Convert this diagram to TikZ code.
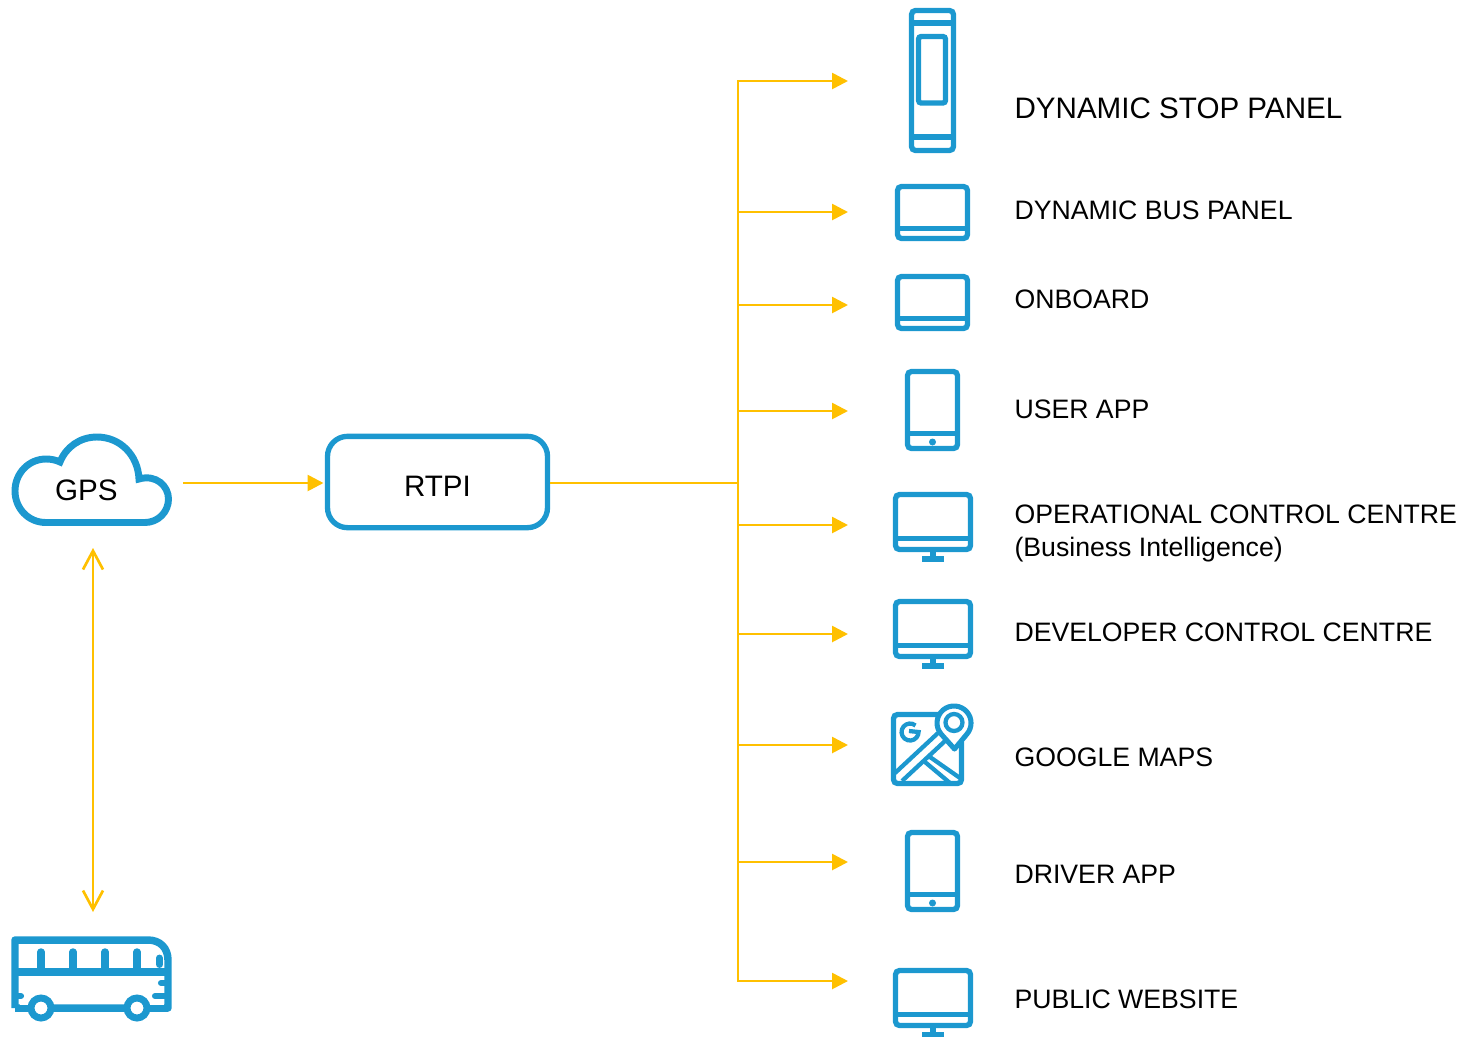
\documentclass[tikz,border=0pt]{standalone}
\usepackage{fontspec}
\setmainfont{Liberation Sans}
\usetikzlibrary{arrows.meta}
\definecolor{iconblue}{RGB}{28,152,207}
\definecolor{feedyellow}{RGB}{255,192,0}

\tikzset{every picture/.style={line width=0.75pt},
    every pic/.style={yscale=-1},
    feed/.style={color=feedyellow,line width=2pt},
    feedarrow/.style={feed,-{Triangle[length=12pt,width=12pt]}},
    icon/.style={color=iconblue,line width=4pt,rounded corners=3pt},
    biglabel/.style={anchor=base west,inner sep=0pt,font=\fontsize{22.2}{26}\selectfont},
    itemlabel/.style={anchor=base west,inner sep=0pt,align=left,font=\fontsize{20}{24.75}\selectfont},
    pics/tablet/.style={code={
            \draw [icon] (0,0) rectangle (50,77);
            \draw [icon] (0,62) -- (50,62);
            \fill [iconblue] (25,70.5) circle (3.5);
        }},
    pics/laptop/.style={code={
            \draw [icon] (0,0) rectangle (70,52);
            \draw [icon] (0,42) -- (70,42);
        }},
    pics/monitor/.style={code={
            \draw [icon] (0,0) rectangle (75,55);
            \draw [icon] (0,44) -- (75,44);
            \draw [icon] (37.5,55) -- (37.5,64);
            \draw [icon,rounded corners=0pt] (26.5,64.5) -- (48.5,64.5);
        }}}

\begin{document}
\begin{tikzpicture}[x=0.75pt,y=0.75pt,yscale=-1,xscale=1]
    \useasboundingbox (0,0) rectangle (1466,1036);

    % gps cloud
    \draw [color=iconblue,line width=5.2pt] (46,522.5) .. controls (28,522.5) and (15,508) .. (15,491) .. controls (15,473) and (29,459) .. (46,459) .. controls (51,459) and (56,460) .. (60,462) .. controls (66,447) and (80,437) .. (97,437) .. controls (120,437) and (138,455) .. (139,479) .. controls (156,474) and (168.5,486) .. (168.5,499) .. controls (168.5,512) and (158,522.5) .. (145,522.5) -- cycle;
    \node (gps) [biglabel] at (54.5,500) {GPS};
    \node (rtpi) [draw=iconblue,line width=4pt,rounded corners=15pt,minimum width=165pt,minimum height=68.5pt,inner sep=0pt] at (437.5,482) {};
    \node (rtpilabel) [biglabel] at (403.5,496) {RTPI};

    % bus
    \draw [color=iconblue,line width=5.6pt,line join=round] (15,1008) -- (15,940) -- (148,940) .. controls (160,940) and (168,948) .. (168,960) -- (168,1008) -- (15,1008);
    \draw [color=iconblue,line width=5.6pt] (15,972) -- (168,972);
    \foreach \x in {41,73,105,137} {
        \draw [color=iconblue,line width=5.6pt,line cap=round] (\x,972) -- (\x,952);
    }
    \draw [color=iconblue,line width=5.2pt,line cap=round] (159.5,958) -- (159.5,964.5);
    \draw [white,line width=3pt] (19.5,1002.5) -- (28,1002.5);
    \draw [white,line width=3pt] (155,989.5) -- (164,989.5);
    \draw [white,line width=3pt] (150,1002.5) -- (164,1002.5);
    \draw [color=iconblue,line width=4.6pt,line cap=round] (15,996) -- (21,996);
    \draw [color=iconblue,line width=4.6pt,line cap=round] (168,983) -- (161,983);
    \draw [color=iconblue,line width=4.6pt,line cap=round] (168,996) -- (155,996);
    \foreach \x in {41,137} {
        \draw [color=iconblue,fill=white,line width=5.2pt] (\x,1008) circle (10);
    }

    % connectors
    \coordinate (gpsout) at (183,483);
    \coordinate (gpsdown) at (93,548);
    \coordinate (busup) at (93,912);
    \coordinate (hub) at (738,483);
    \draw [feedarrow,shorten >=1pt] (gpsout) -- (gpsout -| rtpi.west);
    \draw [feed,{Straight Barb[length=14pt,width=15pt]}-{Straight Barb[length=14pt,width=15pt]}] (gpsdown) -- (busup);
    \draw [feed] (rtpi.east |- hub) -- (hub);
    \foreach \name/\y in {stopin/81,busin/212,onboardin/305,userin/411,opsin/525,devin/634,mapsin/745,driverin/862,sitein/981} {
        \coordinate (\name) at (848,\y);
        \draw [feedarrow] (hub |- \name) -- (\name);
    }
    \draw [feed,line cap=rect] (hub |- stopin) -- (hub |- sitein);

    % stop panel
    \draw [icon] (911.5,10.5) rectangle (953.5,150.5);
    \draw [icon] (911.5,23) -- (953.5,23);
    \draw [icon] (911.5,137) -- (953.5,137);
    \draw [icon,rounded corners=2pt] (918.5,36.5) rectangle (945.5,103);

    \pic at (897.5,186.5) {laptop};
    \pic at (897.5,276.5) {laptop};
    \pic at (907.5,371.5) {tablet};
    \pic at (895.5,494.5) {monitor};
    \pic at (895.5,601.5) {monitor};
    \pic at (907.5,832.5) {tablet};
    \pic at (895.5,970.5) {monitor};

    % map icon
    \draw [icon] (938,714.5) -- (893.5,714.5) -- (893.5,783.5) -- (961.5,783.5) -- (961.5,742);
    \draw [color=iconblue,line width=3.8pt,line join=round] (954.5,749) -- (941,733.9) arc [start angle=140,end angle=400,radius=17] -- cycle;
    \draw [color=iconblue,line width=3.2pt] (954,722.5) circle (8.5);
    \draw [color=iconblue,line width=3.2pt] (895,773) -- (938,733);
    \draw [color=iconblue,line width=3.2pt] (902,781) -- (945,741);
    \draw [color=iconblue,line width=3.2pt] (930,757) -- (960,778);
    \draw [color=iconblue,line width=3.2pt] (925,762) -- (950,783);
    \draw [color=iconblue,line width=3.2pt] (915.5,725.5) arc [start angle=310,end angle=0,radius=8.5] -- (909,731);

    % labels
    \node (stoplabel) [biglabel] at (1014,118) {DYNAMIC STOP PANEL};
    \node (buslabel) [itemlabel] at (1014,219) {DYNAMIC BUS PANEL};
    \node (onboardlabel) [itemlabel] at (1014,308) {ONBOARD};
    \node (userlabel) [itemlabel] at (1014,418) {USER APP};
    \node (opslabel) [itemlabel,anchor=north west] at (1014,504) {OPERATIONAL CONTROL CENTRE\\(Business Intelligence)};
    \node (devlabel) [itemlabel] at (1014,641) {DEVELOPER CONTROL CENTRE};
    \node (mapslabel) [itemlabel] at (1014,766) {GOOGLE MAPS};
    \node (driverlabel) [itemlabel] at (1014,883) {DRIVER APP};
    \node (sitelabel) [itemlabel] at (1014,1008) {PUBLIC WEBSITE};
\end{tikzpicture}
\end{document}
